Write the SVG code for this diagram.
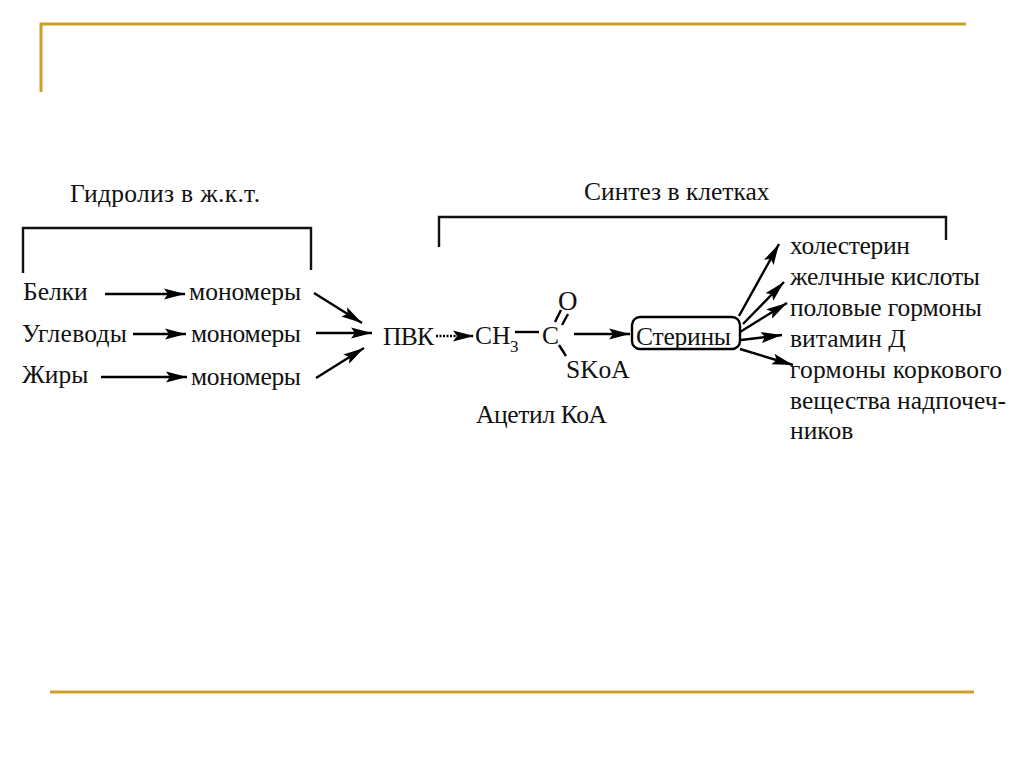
<svg xmlns="http://www.w3.org/2000/svg" width="1024" height="767" viewBox="0 0 1024 767">
<style>
text{font-family:"Liberation Serif","Times New Roman",serif;font-size:25.5px;fill:#111}
.gold{stroke:#cf9f25;stroke-width:3;fill:none}
.br{stroke:#111;stroke-width:2.4;fill:none}
.c line{stroke:#000;stroke-width:2.4;fill:none}
.a{marker-end:url(#ah)}
</style>
<defs><marker id="ah" markerUnits="userSpaceOnUse" markerWidth="22" markerHeight="12" refX="21" refY="6" orient="auto"><path d="M0 0.5L21 6L0 11.5L4 6Z" fill="#000"/></marker></defs>
<rect width="1024" height="767" fill="#fff"/>
<g id="frame"><path class="gold" d="M41 92V24H966"/><path class="gold" d="M50 692H974"/></g>
<g id="brackets"><path class="br" d="M23 273V228H311V270"/><path class="br" d="M439 247V217H946V240"/></g>
<g class="c" id="connectors">
<line class="a" x1="105" y1="294" x2="185" y2="294"/>
<line class="a" x1="133" y1="334" x2="186" y2="334"/>
<line class="a" x1="101" y1="377" x2="187" y2="377"/>
<line class="a" x1="314" y1="293" x2="362" y2="323"/>
<line class="a" x1="316" y1="333" x2="372" y2="333"/>
<line class="a" x1="316" y1="378" x2="364" y2="348"/>
<line class="a" x1="436" y1="336" stroke-dasharray="2 1.5" x2="474" y2="336"/>
<line x1="515" y1="332" x2="539" y2="332"/>
<line x1="555" y1="322" x2="561" y2="310"/><line x1="562" y1="325" x2="568" y2="314"/>
<line x1="559" y1="345" x2="566" y2="356"/>
<line class="a" x1="574" y1="334" x2="630" y2="334"/>
<line class="a" x1="739" y1="316" x2="779" y2="244"/>
<line class="a" x1="743" y1="324" x2="784" y2="282"/>
<line class="a" x1="740" y1="332" x2="787" y2="303"/>
<line class="a" x1="741" y1="340" x2="782" y2="335"/>
<line class="a" x1="740" y1="349" x2="793" y2="365"/>
</g>
<g id="n-stereny"><rect x="632" y="317" width="108" height="32" rx="8" fill="none" stroke="#000" stroke-width="2.4"/><text x="636" y="345" textLength="95">Стерины</text></g>
<g id="labels">
<text x="70" y="202" textLength="190">Гидролиз в ж.к.т.</text>
<text x="584" y="200">Синтез в клетках</text>
<text x="23" y="300">Белки</text>
<text x="22" y="342" textLength="105">Углеводы</text>
<text x="22" y="383">Жиры</text>
<text x="189" y="300">мономеры</text>
<text x="191" y="342" textLength="110">мономеры</text>
<text x="191" y="385" textLength="110">мономеры</text>
<text x="383" y="345" textLength="51">ПВК</text>
<text x="475" y="344">CH</text><text x="510" y="352" style="font-size:17px">3</text>
<text x="542" y="344">C</text>
<text x="558" y="310" style="font-size:27px">O</text>
<text x="566" y="378">SKoA</text>
<text x="476" y="423" textLength="131">Ацетил КоА</text>
<text x="790" y="254" textLength="120">холестерин</text>
<text x="790" y="285" textLength="190">желчные кислоты</text>
<text x="790" y="316" textLength="192">половые гормоны</text>
<text x="790" y="347">витамин Д</text>
<text x="790" y="378" textLength="212">гормоны коркового</text>
<text x="790" y="409" textLength="216">вещества надпочеч-</text>
<text x="790" y="439">ников</text>
</g>
</svg>
